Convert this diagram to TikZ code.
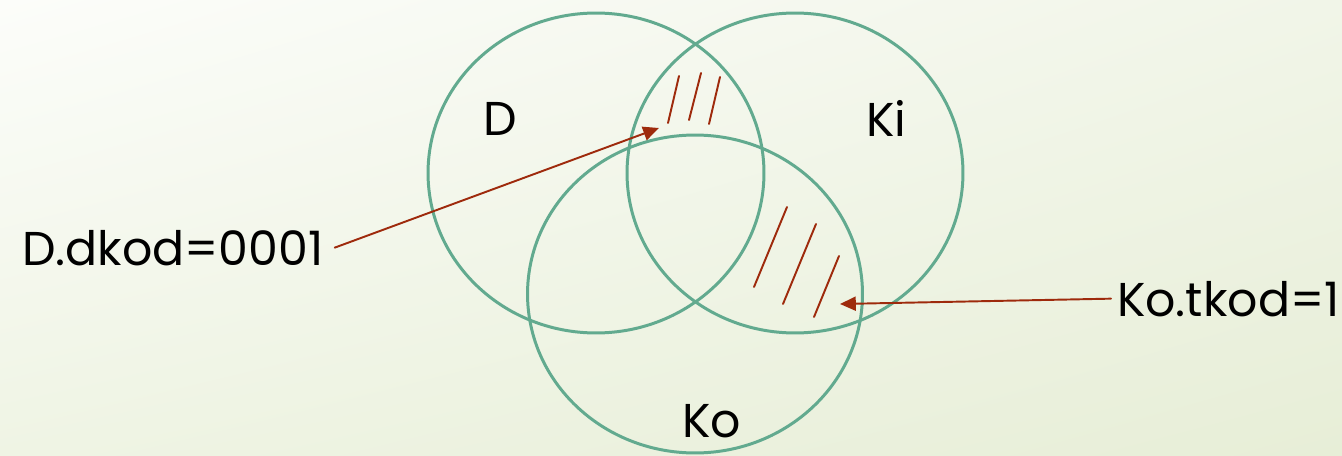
\documentclass[tikz,border=0pt]{standalone}
\usepackage{fontspec}
\setmainfont{Poppins}
\usepackage{tikz}
\usetikzlibrary{arrows.meta,calc,positioning,shadings}
\definecolor{venngreen}{HTML}{62AA8F}
\definecolor{markred}{HTML}{9E2A0C}
\definecolor{bgtl}{HTML}{FCFDFA}
\definecolor{bgtr}{HTML}{F1F5E8}
\definecolor{bgbl}{HTML}{EFF4E4}
\definecolor{bgbr}{HTML}{E7EED7}

\begin{document}
\begin{tikzpicture}[x=0.02cm, y=-0.02cm, line cap=round, line join=round,
  set/.style={draw=venngreen, line width=1.7pt},
  hatch/.style={draw=markred, line width=1.1pt},
  pointer/.style={draw=markred, line width=1.1pt,
    -{Triangle[length=9pt,width=8pt]}},
  lbl/.style={font=\fontsize{27}{32}\selectfont, text=black}]
  \path[use as bounding box] (0,0) rectangle (1342,456);
  \shade[upper left=bgtl, upper right=bgtr, lower left=bgbl,
    lower right=bgbr] (0,0) rectangle (1342,456);
  % the three sets
  \draw[set] (596,173) ellipse [x radius=3.36cm, y radius=3.2cm];
  \draw[set] (795,173) ellipse [x radius=3.36cm, y radius=3.2cm];
  \draw[set] (695,294) ellipse [x radius=3.35cm, y radius=3.18cm];
  \node[lbl, anchor=base west] (setD) at (477,135) {D};
  \node[lbl, anchor=base west] (setKi) at (860,136) {Ki};
  \node[lbl, anchor=base west] (setKo) at (676,437) {Ko};
  % marked regions
  \foreach \xa/\ya/\xb/\yb in {679/76/668/123, 701/73/689/120, 720/77/709/124}
    \draw[hatch] (\xa,\ya) -- (\xb,\yb);
  \foreach \xa/\ya/\xb/\yb in {787/207/754/287, 816/224/783/304, 839/256/814/317}
    \draw[hatch] (\xa,\ya) -- (\xb,\yb);
  \coordinate (tipD) at (659,128);
  \coordinate (tipKo) at (840,304);
  \node[lbl, anchor=base west] (dkod) at (16,265) {D.dkod=0001};
  \node[lbl, anchor=base west] (tkod) at (1111,316) {Ko.tkod=1};
  \draw[pointer] ([xshift=0.1cm]dkod.east) -- (tipD);
  \draw[pointer] (tkod.west) -- (tipKo);
\end{tikzpicture}
\end{document}
